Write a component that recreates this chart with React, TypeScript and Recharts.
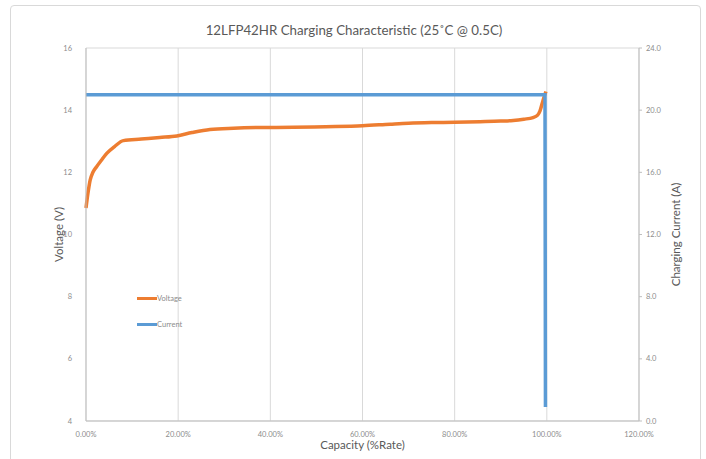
import { LineChart, Line, XAxis, YAxis, CartesianGrid, Label } from 'recharts';

// capacity (%) and voltage (V)
const voltageCapacity = [0, 0.4, 0.9, 1.5, 2.3, 3.3, 4.5, 6.2, 8.1, 12, 16, 19.7, 23, 26.9, 32, 37, 45, 52, 60, 66, 70, 75, 80, 85.5, 90, 92.7, 95, 97, 98, 98.5, 99.2, 99.8];
const voltageValues = [10.85, 11.3, 11.75, 12.0, 12.18, 12.38, 12.61, 12.83, 13.02, 13.07, 13.12, 13.17, 13.28, 13.38, 13.42, 13.44, 13.45, 13.47, 13.5, 13.55, 13.58, 13.6, 13.61, 13.63, 13.65, 13.67, 13.71, 13.76, 13.84, 13.97, 14.33, 14.6];

// capacity (%) and current (A)
const currentCapacity = [0, 99.6, 99.7];
const currentValues = [21, 21, 0.9];

const xTicks = [0, 20, 40, 60, 80, 100, 120];
const voltageTicks = [4, 6, 8, 10, 12, 14, 16];
const currentTicks = [0, 4, 8, 12, 16, 20, 24];

const voltageData = voltageCapacity.map((x, i) => ({ x, v: voltageValues[i] }));
const currentData = currentCapacity.map((x, i) => ({ x, a: currentValues[i] }));

const FONT = 'Lato, "Open Sans", sans-serif';
const tickStyle = { fontSize: 7.5, fill: '#8c8c8c', fontFamily: FONT };

const legendItems = [
  { name: 'Voltage', color: '#ed7d31' },
  { name: 'Current', color: '#5b9bd5' },
];

function LegendBox() {
  return (
    <div style={{ position: 'absolute', left: 137, top: 285, fontFamily: FONT, fontSize: 7.5, color: '#8c8c8c' }}>
      {legendItems.map((it) => (
        <div key={it.name} style={{ display: 'flex', alignItems: 'center', height: 26 }}>
          <span style={{ display: 'inline-block', width: 20, height: 3, background: it.color }} />
          <span>{it.name}</span>
        </div>
      ))}
    </div>
  );
}

export default function App() {
  return (
    <div style={{ position: 'fixed', left: 0, top: 0, width: 706, height: 459, background: '#fff', overflow: 'hidden' }}>
      <div style={{ position: 'absolute', left: 10, top: 5, width: 689, height: 480, border: '1px solid #d9d9d9', borderRadius: 4 }} />
      <div style={{ position: 'absolute', left: 0, top: 22, width: 708, textAlign: 'center', fontFamily: FONT, fontSize: 13.3, color: '#595959' }}>
        12LFP42HR Charging Characteristic (25˚C @ 0.5C)
      </div>
      <LineChart width={706} height={459} margin={{ top: 48, right: 0, bottom: 0, left: 0 }} style={{ position: 'absolute', left: 0, top: 0 }}>
        <CartesianGrid stroke="#d9d9d9" />
        <XAxis
          type="number"
          dataKey="x"
          domain={[0, 120]}
          ticks={xTicks}
          tickFormatter={(v: number) => `${v.toFixed(2)}%`}
          height={38}
          tick={tickStyle}
          tickLine={false}
          tickMargin={5}
          stroke="#bfbfbf"
        >
          <Label value="Capacity (%Rate)" position="insideBottom" offset={10} style={{ fontSize: 11.5, fill: '#595959', fontFamily: FONT }} />
        </XAxis>
        <YAxis
          yAxisId="v"
          domain={[4, 16]}
          ticks={voltageTicks}
          width={86}
          tick={tickStyle}
          tickLine={false}
          tickMargin={8}
          stroke="#bfbfbf"
        >
          <Label value="Voltage (V)" angle={-90} position="insideLeft" offset={59} style={{ fontSize: 11.5, fill: '#595959', fontFamily: FONT, textAnchor: 'middle' }} />
        </YAxis>
        <YAxis
          yAxisId="a"
          orientation="right"
          domain={[0, 24]}
          ticks={currentTicks}
          tickFormatter={(v: number) => v.toFixed(1)}
          width={67}
          tick={tickStyle}
          tickSize={3}
          tickMargin={4}
          stroke="#bfbfbf"
        >
          <Label value="Charging Current (A)" angle={-90} position="insideRight" offset={30} style={{ fontSize: 11.5, fill: '#595959', fontFamily: FONT, textAnchor: 'middle' }} />
        </YAxis>
        <Line yAxisId="v" data={voltageData} dataKey="v" name="Voltage" type="monotone" stroke="#ed7d31" strokeWidth={3.5} dot={false} isAnimationActive={false} />
        <Line yAxisId="a" data={currentData} dataKey="a" name="Current" type="linear" stroke="#5b9bd5" strokeWidth={3.5} dot={false} isAnimationActive={false} />
      </LineChart>
      <LegendBox />
    </div>
  );
}
